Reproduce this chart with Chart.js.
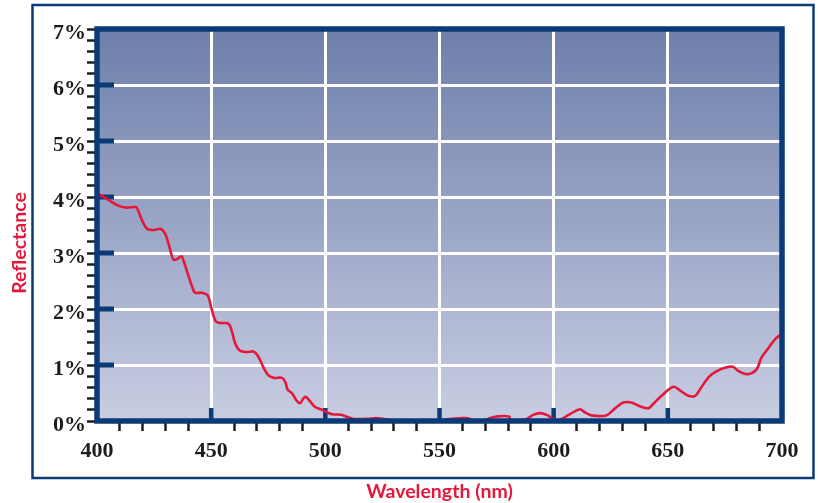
<!DOCTYPE html>
<html lang="en">
<head>
<meta charset="utf-8">
<title>Reflectance</title>
<script src="https://cdn.jsdelivr.net/npm/chart.js@4/dist/chart.umd.min.js"></script>
<style>
  html, body { margin: 0; padding: 0; background: #ffffff; }
  #wrap { width: 818px; height: 503px; position: relative; }
</style>
</head>
<body>
<div id="wrap"><canvas id="reflectanceChart"></canvas></div>
<script>
// Wavelength (nm) and reflectance (%)
const wavelengths = [
  400, 405, 409, 413, 417, 418, 420, 422, 425, 428, 430, 431.5, 433.5, 435, 437, 438,
  440, 442, 443, 446, 448.5, 450, 452, 454, 457.5, 459, 460.5, 462.5, 465.5, 468.5,
  470.5, 473, 475, 477.5, 481, 482.5, 483.5, 485.5, 487.5, 489, 490.5, 491.5, 493.5,
  495.5, 498.5, 501, 503, 507, 512, 518, 523, 528, 531, 550, 553, 559, 562.5, 565,
  569, 572, 575, 580.5, 581, 585, 588, 591, 594, 597, 600, 602, 605, 607, 611.5,
  613.5, 616.5, 623, 627, 630.5, 634, 638, 641.5, 643.5, 647.5, 652.5, 655.5, 659,
  662, 664, 668, 671.5, 675, 678.5, 681, 684, 686.5, 689, 691, 694, 697, 699
];
const reflectance = [
  4.07, 3.95, 3.85, 3.81, 3.82, 3.76, 3.56, 3.43, 3.41, 3.43, 3.33, 3.14, 2.88, 2.89, 2.94, 2.85,
  2.6, 2.36, 2.29, 2.29, 2.24, 2.03, 1.78, 1.75, 1.74, 1.61, 1.39, 1.26, 1.23, 1.24,
  1.16, 0.95, 0.82, 0.77, 0.77, 0.69, 0.56, 0.49, 0.36, 0.32, 0.41, 0.43, 0.34,
  0.25, 0.2, 0.15, 0.12, 0.11, 0.04, 0.04, 0.05, 0.02, 0, 0, 0.03, 0.05, 0.05, 0,
  0, 0.05, 0.08, 0.08, 0.02, 0.02, 0.03, 0.11, 0.14, 0.11, 0.03, 0.01, 0.07, 0.12, 0.21,
  0.16, 0.1, 0.1, 0.23, 0.33, 0.33, 0.26, 0.23, 0.3, 0.46, 0.61, 0.54, 0.45,
  0.45, 0.56, 0.79, 0.89, 0.95, 0.97, 0.89, 0.84, 0.85, 0.93, 1.13, 1.3, 1.46, 1.53
];
// Major tick values
const xMajorTicks = [450, 500, 550, 600, 650];
const yMajorTicks = [1, 2, 3, 4, 5, 6];

const NAVY = "#0b3a78";
const RED = "#e5173b";
const INK = "#1c1c1c";
const TITLE_FONT = "bold 19.5px Lato, sans-serif";

const isInteger = (v) => Math.abs(v - Math.round(v)) < 1e-6;

// Hintergrund, Rahmen, innere Markierungen und Y-Titel
const framePlugin = {
  id: "frame",
  beforeDraw(chart) {
    const { ctx, chartArea: a } = chart;
    const grad = ctx.createLinearGradient(0, a.top, 0, a.bottom);
    grad.addColorStop(0, "#6e7fab");
    grad.addColorStop(1, "#c8cde2");
    ctx.save();
    ctx.fillStyle = grad;
    ctx.fillRect(a.left, a.top, a.right - a.left, a.bottom - a.top);
    ctx.restore();
  },
  beforeDatasetsDraw(chart) {
    const { ctx, chartArea: a, scales } = chart;
    ctx.save();
    ctx.strokeStyle = NAVY;
    ctx.lineWidth = 5;
    // thick ticks inside the plot
    yMajorTicks.forEach((v) => {
      const y = scales.y.getPixelForValue(v);
      ctx.beginPath();
      ctx.moveTo(a.left, y);
      ctx.lineTo(a.left + 17, y);
      ctx.stroke();
    });
    ctx.lineWidth = 4.5;
    xMajorTicks.forEach((v) => {
      const x = scales.x.getPixelForValue(v);
      ctx.beginPath();
      ctx.moveTo(x, a.bottom);
      ctx.lineTo(x, a.bottom - 13);
      ctx.stroke();
    });
    ctx.restore();
  },
  afterDatasetsDraw(chart) {
    const { ctx, chartArea: a } = chart;
    ctx.save();
    ctx.strokeStyle = NAVY;
    ctx.lineWidth = 5.5;
    ctx.strokeRect(a.left, a.top, a.right - a.left, a.bottom - a.top);
    // outer box
    ctx.lineWidth = 2.5;
    ctx.strokeRect(32.5, 5, 781, 473);
    // y axis title, sits a bit below the middle of the plot
    ctx.translate(20, 243);
    ctx.rotate(-Math.PI / 2);
    ctx.fillStyle = RED;
    ctx.font = TITLE_FONT;
    ctx.textAlign = "center";
    ctx.textBaseline = "middle";
    ctx.fillText("Reflectance", 0, 0);
    ctx.restore();
  },
};

document.addEventListener("DOMContentLoaded", () => {
  const canvas = document.querySelector("#reflectanceChart");
  const points = wavelengths.map((w, i) => ({ x: w, y: reflectance[i] }));

  new Chart(canvas.getContext("2d"), {
    type: "line",
    data: {
      datasets: [
        {
          label: "Reflectance",
          data: points,
          borderColor: RED,
          borderWidth: 2.6,
          pointRadius: 0,
          tension: 0.35,
          fill: false,
        },
      ],
    },
    options: {
      responsive: true,
      maintainAspectRatio: false,
      animation: false,
      layout: { padding: { top: 29, right: 36, left: 0, bottom: 0 } },
      plugins: {
        legend: { display: false },
        tooltip: { enabled: false },
      },
      scales: {
        x: {
          type: "linear",
          min: 400,
          max: 700,
          afterFit: (scale) => {
            scale.height = 82;
          },
          border: { display: false },
          grid: {
            color: (c) =>
              xMajorTicks.includes(c.tick.value) ? "#ffffff" : "transparent",
            lineWidth: 3,
            tickColor: (c) =>
              c.tick.value % 50 === 0 ? "transparent" : INK,
            tickWidth: 2.5,
            tickLength: 10,
          },
          ticks: {
            stepSize: 10,
            autoSkip: false,
            maxRotation: 0,
            padding: 7,
            color: INK,
            font: { family: "'Liberation Serif', serif", size: 22, weight: "bold" },
            callback: (v) => (v % 50 === 0 ? String(v) : ""),
          },
          title: {
            display: true,
            text: "Wavelength (nm)",
            color: RED,
            font: { family: "Lato, sans-serif", size: 19.5, weight: "bold" },
            padding: { top: 0, bottom: 0 },
          },
        },
        y: {
          min: 0,
          max: 7,
          afterFit: (scale) => {
            scale.width = 97;
          },
          border: { display: false },
          grid: {
            color: (c) =>
              yMajorTicks.includes(Math.round(c.tick.value)) && isInteger(c.tick.value)
                ? "#ffffff"
                : "transparent",
            lineWidth: 3,
            tickColor: INK,
            tickWidth: 2.5,
            tickLength: 10,
          },
          ticks: {
            stepSize: 0.2,
            autoSkip: false,
            padding: 1,
            labelOffset: 4,
            color: INK,
            font: { family: "'Liberation Serif', serif", size: 22, weight: "bold" },
            callback: (v) => (isInteger(v) ? Math.round(v) + "%" : ""),
          },
        },
      },
    },
    plugins: [framePlugin],
  });
});
</script>
</body>
</html>
